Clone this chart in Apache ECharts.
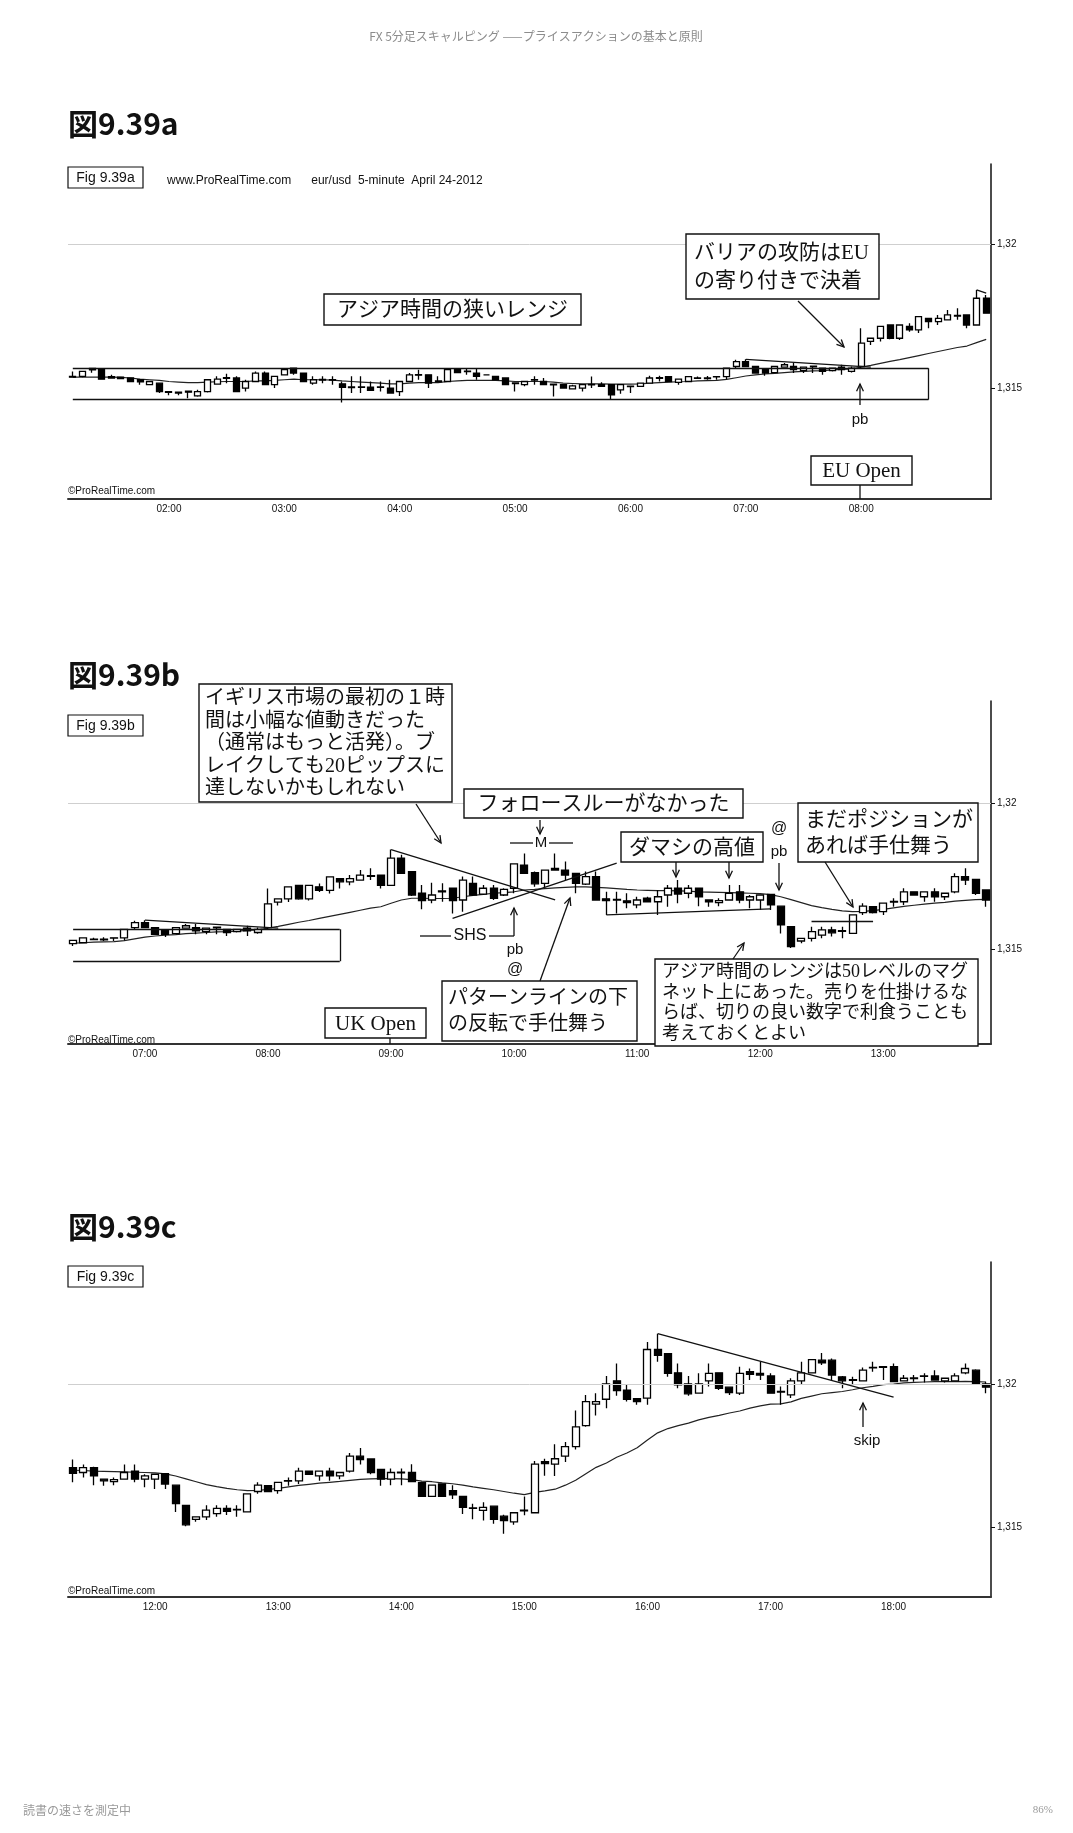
<!DOCTYPE html>
<html><head><meta charset="utf-8">
<script src="https://cdn.jsdelivr.net/npm/echarts@6/dist/echarts.min.js"></script>
<style>html,body{margin:0;padding:0;background:#fff}#c{width:1073px;height:1833px}</style>
</head><body><div id="c"></div><script>
// EUR/USD 5-minute bars, April 24 2012, 01:10 .. 18:45 (one bar every 5 minutes)
const START_TIME = '01:10';
const openP = [1.31541,1.31541,1.31563,1.31564,1.3154,1.31538,1.31535,1.31529,1.31512,1.31517,1.31488,1.31486,1.31489,1.31473,1.31488,1.31514,1.31536,1.31535,1.315,1.31523,1.31552,1.31512,1.31546,1.31569,1.31552,1.31517,1.3153,1.31529,1.31515,1.31504,1.31503,1.31503,1.31503,1.315,1.31488,1.31523,1.31547,1.31546,1.31525,1.31523,1.31564,1.31559,1.31552,1.31546,1.31541,1.31535,1.31518,1.31512,1.31529,1.31523,1.31514,1.31512,1.31497,1.315,1.31513,1.31512,1.31512,1.31494,1.31507,1.31506,1.31517,1.31536,1.3154,1.3152,1.31523,1.31534,1.31533,1.3154,1.3154,1.31575,1.31592,1.31575,1.31564,1.31554,1.31573,1.31575,1.31561,1.31576,1.31569,1.31561,1.31573,1.31558,1.31575,1.31662,1.31673,1.31719,1.31673,1.31714,1.31702,1.31742,1.31731,1.31737,1.31752,1.31754,1.31719,1.31812,1.31766,1.31692,1.31669,1.31697,1.31709,1.31669,1.31726,1.31689,1.31709,1.31686,1.31709,1.31788,1.31762,1.31726,1.31777,1.31771,1.3176,1.31723,1.31749,1.31673,1.31669,1.31666,1.31652,1.31675,1.31663,1.31686,1.31709,1.31692,1.31709,1.31669,1.3166,1.31669,1.31697,1.31669,1.31669,1.31688,1.31648,1.31578,1.31529,1.31538,1.31549,1.31567,1.31562,1.31555,1.31626,1.31646,1.31629,1.31662,1.31663,1.31697,1.3168,1.31697,1.3168,1.31697,1.31749,1.31739,1.31703,1.31669,1.31691,1.31692,1.31657,1.31609,1.31652,1.31629,1.31609,1.31569,1.3156,1.31575,1.3154,1.3152,1.31559,1.31552,1.3173,1.31721,1.31749,1.31782,1.31855,1.3193,1.31947,1.32011,1.31979,1.31949,1.31951,1.3212,1.32106,1.32039,1.32,1.31968,1.32011,1.32039,1.31989,1.31968,1.32043,1.32037,1.32028,1.31972,1.31962,1.32011,1.32039,1.32083,1.32083,1.32025,1.32013,1.32011,1.32058,1.3206,1.3206,1.32011,1.32019,1.32028,1.32028,1.32011,1.32011,1.32039,1.32048,1.32];
const closeP = [1.31538,1.31558,1.31568,1.31531,1.31535,1.31533,1.31523,1.31522,1.31523,1.31488,1.31485,1.31483,1.31486,1.31488,1.31529,1.31531,1.31534,1.31488,1.31523,1.31552,1.31512,1.31541,1.31564,1.31552,1.31523,1.31529,1.31528,1.31528,1.31503,1.31502,1.31504,1.31492,1.31504,1.31483,1.31523,1.31546,1.31545,1.31517,1.31522,1.31564,1.31554,1.31557,1.31541,1.31546,1.31529,1.31512,1.31516,1.31523,1.31528,1.31512,1.31511,1.315,1.31508,1.31512,1.31511,1.31506,1.31477,1.31512,1.31505,1.31517,1.31535,1.31534,1.31523,1.31531,1.3154,1.31535,1.31535,1.31539,1.31569,1.31592,1.31575,1.31552,1.31552,1.31575,1.31581,1.31564,1.31573,1.31574,1.31558,1.31569,1.31564,1.31569,1.31656,1.31673,1.31714,1.31673,1.31719,1.31702,1.31748,1.31731,1.31742,1.31754,1.3175,1.31719,1.31812,1.3176,1.31686,1.31667,1.31686,1.317,1.31667,1.31737,1.31686,1.31709,1.31675,1.31705,1.31792,1.3176,1.31724,1.31771,1.31771,1.31754,1.31726,1.31749,1.31669,1.31667,1.31671,1.3166,1.31669,1.31663,1.3168,1.31709,1.31689,1.31709,1.3168,1.31663,1.31667,1.31692,1.31669,1.3168,1.31686,1.31652,1.31584,1.3151,1.31538,1.31561,1.31567,1.31557,1.31564,1.31618,1.31648,1.31626,1.31658,1.31664,1.31697,1.31686,1.31697,1.3168,1.31692,1.31749,1.31737,1.31692,1.31669,1.31692,1.31693,1.3166,1.31609,1.31648,1.31609,1.31614,1.31571,1.31567,1.31571,1.31529,1.31525,1.31552,1.31561,1.31721,1.31723,1.3174,1.31782,1.31851,1.31939,1.31939,1.32,1.31977,1.31947,1.31939,1.3212,1.321,1.32037,1.31997,1.31966,1.32,1.32037,1.31985,1.3197,1.32037,1.32034,1.32031,1.31968,1.31974,1.32011,1.32039,1.32085,1.32074,1.32031,1.32011,1.32015,1.32048,1.32056,1.32058,1.32008,1.3202,1.32021,1.32027,1.32014,1.3202,1.32028,1.32054,1.32,1.31989];
const lowP = [1.31536,1.31538,1.31553,1.3153,1.31533,1.31531,1.31521,1.31512,1.3151,1.31483,1.31475,1.31475,1.31465,1.3147,1.31485,1.31512,1.31517,1.31486,1.31488,1.31521,1.3151,1.315,1.31544,1.31546,1.31521,1.31512,1.31517,1.31512,1.3145,1.31483,1.31483,1.3149,1.31488,1.31481,1.31473,1.31521,1.31529,1.315,1.3152,1.31521,1.31552,1.31546,1.31529,1.31545,1.31527,1.3151,1.31488,1.31506,1.31512,1.3151,1.31471,1.31498,1.31495,1.31488,1.315,1.31504,1.3146,1.3148,1.31483,1.31504,1.31515,1.31523,1.31521,1.31512,1.31521,1.31533,1.31529,1.31529,1.31531,1.31569,1.31573,1.3155,1.31543,1.31552,1.31571,1.31552,1.31552,1.31552,1.31546,1.31558,1.31546,1.31554,1.31569,1.3165,1.31662,1.3167,1.31667,1.31696,1.31691,1.31708,1.31719,1.31735,1.31737,1.31708,1.31717,1.31758,1.31683,1.31637,1.31658,1.31663,1.31623,1.31629,1.31683,1.31686,1.31669,1.31683,1.31692,1.31758,1.31714,1.31709,1.31769,1.31737,1.31692,1.3172,1.31667,1.31618,1.31623,1.31641,1.31641,1.3166,1.31618,1.31646,1.31658,1.31675,1.31648,1.31646,1.31648,1.31667,1.31658,1.31641,1.31635,1.31635,1.31555,1.31505,1.31521,1.31527,1.31538,1.31544,1.31538,1.31553,1.31618,1.31623,1.31618,1.31646,1.31652,1.31684,1.31663,1.31663,1.31669,1.31692,1.3172,1.31686,1.31646,1.31648,1.31648,1.31658,1.31607,1.31607,1.31607,1.316,1.31548,1.31529,1.31525,1.31514,1.31479,1.3151,1.31543,1.3155,1.31681,1.3168,1.31729,1.31772,1.31851,1.3189,1.31916,1.31959,1.31939,1.31928,1.31928,1.32077,1.32025,1.31985,1.31959,1.31966,1.31991,1.31979,1.31962,1.31962,1.32014,1.32014,1.31966,1.31928,1.31951,1.32,1.32037,1.32066,1.32014,1.31985,1.31997,1.3201,1.32043,1.32014,1.32006,1.32009,1.32008,1.32005,1.32012,1.32005,1.3201,1.32034,1.31998,1.31968];
const highP = [1.31558,1.3156,1.3157,1.31566,1.31546,1.3154,1.31537,1.3153,1.31525,1.31519,1.3149,1.31488,1.3149,1.31494,1.3153,1.31541,1.3155,1.31541,1.31529,1.31558,1.31558,1.31543,1.31569,1.3157,1.31554,1.31541,1.31541,1.31541,1.31523,1.31541,1.31541,1.31523,1.31523,1.31529,1.31525,1.31552,1.31564,1.31548,1.31541,1.31566,1.31569,1.31569,1.31569,1.31547,1.31543,1.31537,1.31519,1.31525,1.31541,1.31535,1.31515,1.31514,1.31512,1.31514,1.3154,1.3152,1.31514,1.31514,1.31509,1.31519,1.31543,1.31543,1.31542,1.31533,1.31542,1.3154,1.31542,1.31541,1.31571,1.31598,1.316,1.31577,1.31566,1.31577,1.31587,1.31587,1.31575,1.31577,1.31571,1.31571,1.31581,1.31575,1.31708,1.31675,1.31716,1.31721,1.31721,1.31725,1.3175,1.31744,1.31754,1.31771,1.31777,1.31756,1.31841,1.31823,1.31768,1.3172,1.31728,1.31726,1.31712,1.31749,1.31749,1.3172,1.3172,1.31709,1.31794,1.31828,1.31766,1.31773,1.31828,1.318,1.31762,1.31766,1.31766,1.31697,1.31697,1.31692,1.3168,1.3168,1.31703,1.3172,1.31737,1.3172,1.31712,1.31671,1.31675,1.3172,1.3172,1.31686,1.31688,1.3169,1.3165,1.3158,1.3154,1.31578,1.31578,1.31578,1.31578,1.3162,1.31658,1.31648,1.3166,1.31675,1.31709,1.31699,1.31699,1.31709,1.31694,1.3176,1.31777,1.31741,1.31705,1.31706,1.31706,1.31721,1.3166,1.3165,1.31654,1.31648,1.31611,1.31583,1.31589,1.31577,1.31545,1.31554,1.31609,1.31732,1.3174,1.3179,1.31798,1.31908,1.31962,1.31968,1.32028,1.32071,1.31997,1.31951,1.32146,1.32175,1.32108,1.32071,1.32028,1.32037,1.32071,1.32041,1.31991,1.3206,1.32054,1.32077,1.32037,1.31991,1.3202,1.32077,1.32087,1.32108,1.32089,1.32028,1.32025,1.32057,1.32077,1.32062,1.32071,1.32031,1.32031,1.32037,1.32048,1.32022,1.32037,1.32071,1.32051,1.32008];
const maP = [1.31538,1.31538,1.31538,1.31538,1.31538,1.31537,1.31535,1.31531,1.31529,1.31527,1.31523,1.31521,1.31519,1.31519,1.31521,1.31522,1.31523,1.31523,1.31523,1.31525,1.31525,1.31527,1.31529,1.31531,1.31529,1.31529,1.31529,1.31528,1.31525,1.31523,1.31521,1.31519,1.31517,1.31515,1.31515,1.31517,1.31519,1.31519,1.31519,1.31523,1.31525,1.31527,1.31527,1.31527,1.31527,1.31525,1.31523,1.31523,1.31523,1.31523,1.31521,1.31517,1.31516,1.31515,1.31515,1.31515,1.31514,1.31514,1.31514,1.31515,1.31517,1.31519,1.31521,1.31522,1.31523,1.31525,1.31526,1.31527,1.3153,1.31536,1.31542,1.31546,1.31549,1.31551,1.31554,1.31556,1.31558,1.3156,1.31561,1.31563,1.31565,1.31567,1.31573,1.31579,1.31586,1.31593,1.31599,1.31606,1.31613,1.3162,1.31627,1.31634,1.31641,1.31646,1.31658,1.31669,1.31675,1.31675,1.31674,1.31674,1.31675,1.3168,1.31685,1.31688,1.31692,1.31694,1.31697,1.31703,1.31705,1.31708,1.3171,1.31712,1.31714,1.31714,1.31712,1.3171,1.31708,1.31705,1.31703,1.31702,1.31701,1.31701,1.317,1.31699,1.31697,1.31696,1.31695,1.31694,1.31693,1.31692,1.31691,1.31687,1.3168,1.3167,1.3166,1.3165,1.31643,1.31637,1.31632,1.31629,1.3163,1.31633,1.31637,1.31642,1.31647,1.31651,1.31655,1.31658,1.31661,1.31665,1.31668,1.3167,1.31671,1.31671,1.3167,1.31667,1.31662,1.3166,1.31656,1.31653,1.31648,1.31642,1.31637,1.31632,1.31626,1.3162,1.31615,1.31623,1.31628,1.31634,1.31648,1.31665,1.31688,1.3171,1.31725,1.31745,1.3176,1.31778,1.31805,1.3183,1.31845,1.31855,1.31864,1.31875,1.31884,1.31891,1.31899,1.31906,1.31916,1.31924,1.3193,1.31931,1.31938,1.3195,1.31958,1.31966,1.3197,1.31974,1.3198,1.31987,1.31992,1.31998,1.32,1.32004,1.32006,1.32007,1.32008,1.32008,1.32008,1.32009,1.32008,1.32007];
const yTickValues = [1.315, 1.32];
const yTickText = ['1,315', '1,32'];

// drawn lines on each panel: [[barIndex, price], [barIndex, price]] (bar index local to panel)
const linesA = [[[0,1.31569],[89,1.31569]], [[0,1.3146],[89,1.3146]], [[89,1.3146],[89,1.31569]], [[70,1.316],[83,1.31573]], [[94,1.31841],[95,1.3183]]];
const linesB = [[[0,1.31569],[26,1.31569]], [[0,1.3146],[26,1.3146]], [[26,1.3146],[26,1.31569]], [[7,1.316],[20,1.31573]], [[31,1.31841],[47,1.31669]], [[37,1.31606],[53,1.31795]], [[52,1.31618],[68,1.31639]], [[72,1.31595],[78,1.31595]]];
const linesC = [[[57,1.32175],[80,1.31954]]];

const times = openP.map((_, i) => {
  const [h0, m0] = START_TIME.split(':').map(Number);
  const t = h0 * 60 + m0 + 5 * i;
  return String(Math.floor(t / 60)).padStart(2, '0') + ':' + String(t % 60).padStart(2, '0');
});

const PANELS = [
  {from: 0, to: 95, top: 164, height: 335, min: 1.31115, max: 1.32278, bw: 6.5, lines: linesA},
  {from: 63, to: 152, top: 701, height: 343, min: 1.311775, max: 1.323481, bw: 7.5, lines: linesB},
  {from: 122, to: 211, top: 1262, height: 335, min: 1.312589, max: 1.324245, bw: 7.5, lines: linesC}
];

const NARROW = "'Liberation Sans Narrow', 'Liberation Sans', Arial, sans-serif";
const SANS = "'Liberation Sans', Arial, sans-serif";
const JP = "'Liberation Serif', 'Noto Sans CJK JP', serif";
const SERIF = "'Liberation Serif', serif";

const grids = [], xAxes = [], yAxes = [], series = [];
PANELS.forEach((p, k) => {
  grids.push({left: 68, width: 923, top: p.top, height: p.height, containLabel: false});
  const cats = times.slice(p.from, p.to + 1);
  const n = cats.length;
  const isHour = (i, v) => String(v).endsWith(':00') && i < n - 3;
  xAxes.push({
    type: 'category', gridIndex: k, data: cats, boundaryGap: true,
    axisLine: {lineStyle: {color: '#333', width: 2}},
    axisTick: {interval: isHour, alignWithLabel: true, length: 4, lineStyle: {color: '#333'}},
    axisLabel: {interval: isHour, fontSize: 10, color: '#111', fontFamily: NARROW, margin: 5},
    splitLine: {show: false}
  });
  yAxes.push({
    type: 'value', gridIndex: k, position: 'right', min: p.min, max: p.max, scale: true,
    axisLine: {show: true, lineStyle: {color: '#111', width: 1.5}},
    axisTick: {show: true, customValues: yTickValues, length: 4, lineStyle: {color: '#111'}},
    axisLabel: {customValues: yTickValues, fontSize: 10, color: '#111', fontFamily: NARROW, margin: 6,
      formatter: v => { const j = yTickValues.findIndex(t => Math.abs(t - v) < 1e-7); return j >= 0 ? yTickText[j] : ''; }},
    splitLine: {show: false}
  });
  const ohlc = [];
  for (let i = p.from; i <= p.to; i++) ohlc.push([openP[i], closeP[i], lowP[i], highP[i]]);
  const mlData = yTickValues.map(v => ({yAxis: v, lineStyle: {color: '#cfcfcf', width: 1, type: 'solid'}}));
  p.lines.forEach(seg => mlData.push([{coord: seg[0]}, {coord: seg[1]}]));
  series.push({
    type: 'candlestick', xAxisIndex: k, yAxisIndex: k, data: ohlc, barWidth: p.bw, z: 3,
    itemStyle: {color: '#fff', color0: '#000', borderColor: '#000', borderColor0: '#000', borderColorDoji: '#000', borderWidth: 1.3},
    markLine: {silent: true, symbol: ['none', 'none'], animation: false, label: {show: false},
      lineStyle: {color: '#111', width: 1.3, type: 'solid'}, emphasis: {disabled: true}, data: mlData}
  });
  series.push({
    type: 'line', xAxisIndex: k, yAxisIndex: k, data: maP.slice(p.from, p.to + 1), z: 2,
    showSymbol: false, symbol: 'none', silent: true, lineStyle: {color: '#222', width: 1.2}
  });
});

// ---- annotations (page overlay) ----
const G = [];
function txt(x, y, t, o) {
  const st = Object.assign({text: t, fill: '#111', fontSize: 12, fontFamily: SANS,
    textAlign: 'left', textVerticalAlign: 'middle', align: 'left', verticalAlign: 'middle'}, o || {});
  if (st.textAlign) st.align = st.textAlign;
  if (st.textVerticalAlign) st.verticalAlign = st.textVerticalAlign;
  G.push({type: 'text', x: x, y: y, z: 101, silent: true, style: st});
}
function rect(x, y, w, h, lw) {
  G.push({type: 'rect', z: 100, silent: true, shape: {x: x, y: y, width: w, height: h}, style: {fill: '#fff', stroke: '#111', lineWidth: lw || 1.4}});
}
function ln(x1, y1, x2, y2, lw) {
  G.push({type: 'line', z: 100, silent: true, shape: {x1: x1, y1: y1, x2: x2, y2: y2}, style: {stroke: '#111', lineWidth: lw || 1.3}});
}
function arrow(x1, y1, x2, y2) {
  ln(x1, y1, x2, y2);
  const a = Math.atan2(y2 - y1, x2 - x1), L = 8;
  G.push({type: 'polyline', z: 100, silent: true, shape: {points: [
    [x2 + L * Math.cos(a + 2.7), y2 + L * Math.sin(a + 2.7)], [x2, y2], [x2 + L * Math.cos(a - 2.7), y2 + L * Math.sin(a - 2.7)]]},
    style: {stroke: '#111', lineWidth: 1.3, fill: null}});
}
function boxC(x, y, w, h, t, fs, fam) {
  rect(x, y, w, h);
  txt(x + w / 2, y + h / 2 + 1, t, {fontSize: fs, fontFamily: fam || JP, textAlign: 'center'});
}
function boxL(x, y, w, h, t, fs, lh, pad) {
  rect(x, y, w, h);
  txt(x + pad, y + h / 2 + 1, t, {fontSize: fs, fontFamily: JP, lineHeight: lh, textAlign: 'left'});
}
function figBox(x, y, t) {
  rect(x, y, 75, 21, 1.2);
  txt(x + 37.5, y + 11, t, {fontSize: 14, fontFamily: NARROW, textAlign: 'center'});
}

// page header / titles / footer
txt(536, 36, 'FX 5分足スキャルピング ——プライスアクションの基本と原則', {fontSize: 12, fill: '#8c8c8c', fontFamily: "'Noto Sans CJK JP', sans-serif", textAlign: 'center'});
txt(68, 124, '図9.39a', {fontSize: 30, fontWeight: 'bold', fontFamily: "'Noto Sans CJK JP', sans-serif"});
txt(68, 675, '図9.39b', {fontSize: 30, fontWeight: 'bold', fontFamily: "'Noto Sans CJK JP', sans-serif"});
txt(68, 1227, '図9.39c', {fontSize: 30, fontWeight: 'bold', fontFamily: "'Noto Sans CJK JP', sans-serif"});
txt(23, 1810, '読書の速さを測定中', {fontSize: 12, fill: '#9a9a9a', fontFamily: "'Noto Sans CJK JP', sans-serif"});
txt(1053, 1810, '86%', {fontSize: 11, fill: '#9a9a9a', fontFamily: SERIF, textAlign: 'right'});

// chart a
figBox(68, 167, 'Fig 9.39a');
txt(167, 181, 'www.ProRealTime.com      eur/usd  5-minute  April 24-2012', {fontSize: 12, fontFamily: NARROW});
boxC(324, 294, 257, 31, 'アジア時間の狭いレンジ', 21);
boxL(686, 234, 193, 65, 'バリアの攻防はEU\nの寄り付きで決着', 21, 28, 8);
arrow(798, 301, 844, 347);
arrow(860, 405, 860, 384);
txt(860, 420, 'pb', {fontSize: 15, fontFamily: SANS, textAlign: 'center'});
boxC(811, 456, 101, 29, 'EU Open', 21, SERIF);
ln(860, 485, 860, 499);
txt(68, 491, '©ProRealTime.com', {fontSize: 10, fontFamily: NARROW});

// chart b
figBox(68, 715, 'Fig 9.39b');
boxL(199, 684, 253, 118, 'イギリス市場の最初の１時\n間は小幅な値動きだった\n（通常はもっと活発）。ブ\nレイクしても20ピップスに\n達しないかもしれない', 20, 22.5, 6);
arrow(416, 804, 441, 843);
boxC(464, 789, 279, 29, 'フォロースルーがなかった', 21);
arrow(540, 820, 540, 834);
txt(541, 843, 'M', {fontSize: 15, fontFamily: SANS, textAlign: 'center'});
ln(510, 843, 533, 843); ln(549, 843, 573, 843);
boxC(621, 832, 142, 30, 'ダマシの高値', 21);
arrow(676, 862, 676, 877);
arrow(729, 862, 729, 878);
txt(779, 829, '@', {fontSize: 16, fontFamily: SANS, textAlign: 'center'});
txt(779, 852, 'pb', {fontSize: 15, fontFamily: SANS, textAlign: 'center'});
arrow(779, 863, 779, 890);
boxL(798, 803, 180, 59, 'まだポジションが\nあれば手仕舞う', 21, 26, 7);
arrow(825, 862, 853, 907);
boxL(655, 959, 323, 87, 'アジア時間のレンジは50レベルのマグ\nネット上にあった。売りを仕掛けるな\nらば、切りの良い数字で利食うことも\n考えておくとよい', 18, 20.5, 7);
arrow(733, 959, 744, 943);
boxL(442, 981, 195, 60, 'パターンラインの下\nの反転で手仕舞う', 20, 26, 6);
arrow(540, 981, 570, 898);
txt(470, 936, 'SHS', {fontSize: 16, fontFamily: SANS, textAlign: 'center'});
ln(420, 936, 451, 936); ln(489, 936, 514, 936);
arrow(514, 936, 514, 908);
txt(515, 950, 'pb', {fontSize: 15, fontFamily: SANS, textAlign: 'center'});
txt(515, 970, '@', {fontSize: 16, fontFamily: SANS, textAlign: 'center'});
boxC(325, 1008, 101, 30, 'UK Open', 21, SERIF);
ln(390, 1038, 390, 1044);
txt(68, 1040, '©ProRealTime.com', {fontSize: 10, fontFamily: NARROW});

// chart c
figBox(68, 1266, 'Fig 9.39c');
arrow(863, 1427, 863, 1403);
txt(867, 1441, 'skip', {fontSize: 15, fontFamily: SANS, textAlign: 'center'});
txt(68, 1591, '©ProRealTime.com', {fontSize: 10, fontFamily: NARROW});

const chart = echarts.init(document.getElementById('c'), null, {renderer: 'canvas'});
chart.setOption({
  animation: false,
  backgroundColor: '#fff',
  grid: grids, xAxis: xAxes, yAxis: yAxes, series: series,
  graphic: {elements: G}
});
</script></body></html>
